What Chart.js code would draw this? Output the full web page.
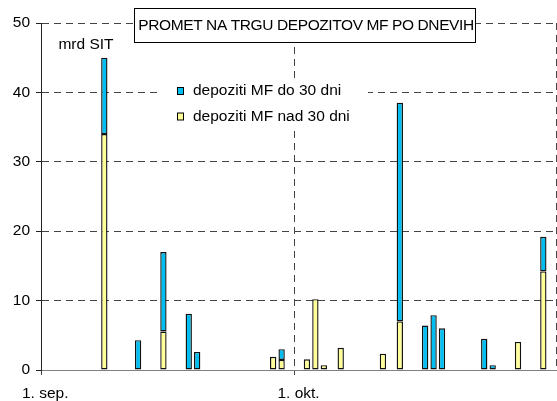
<!DOCTYPE html>
<html>
<head>
<meta charset="utf-8">
<script src="https://cdn.jsdelivr.net/npm/chart.js@4"></script>
<style>
  html, body { margin: 0; padding: 0; background: #fff; }
  #wrap { width: 557px; height: 401px; }
</style>
</head>
<body>
<div id="wrap"><canvas id="chart"></canvas></div>
<script>
const FONT = '"Liberation Sans", Arial, sans-serif';
const FONT_SIZE = 15.5;

// categories: every day from 1. sep. to 31. okt.
const months = [['sep.', 30], ['okt.', 31]];
const days = [];
months.forEach(([name, count]) => {
  for (let d = 1; d <= count; d++) days.push(d + '. ' + name);
});
const tickLabels = ['1. sep.', '1. okt.'];

const titleText = 'PROMET NA TRGU DEPOZITOV MF PO DNEVIH';
const unitText = 'mrd SIT';
const do30Label = 'depoziti MF do 30 dni';
const nad30Label = 'depoziti MF nad 30 dni';

// depoziti MF do 30 dni (mrd SIT)
const do30Days = ['8. sep.', '12. sep.', '15. sep.', '18. sep.', '19. sep.', '29. sep.',
  '13. okt.', '16. okt.', '17. okt.', '18. okt.', '23. okt.', '24. okt.', '30. okt.'];
const do30Values = [11, 4.3, 11.45, 8.1, 2.6, 1.55, 31.5, 6.4, 7.9, 6.0, 4.5, 0.7, 5.0];

// depoziti MF nad 30 dni (mrd SIT)
const nad30Days = ['8. sep.', '15. sep.', '28. sep.', '29. sep.', '2. okt.', '3. okt.',
  '4. okt.', '6. okt.', '11. okt.', '13. okt.', '27. okt.', '30. okt.'];
const nad30Values = [34, 5.55, 1.9, 1.45, 1.55, 10.2, 0.7, 3.2, 2.35, 7.0, 4.05, 14.2];

const yTicks = [0, 10, 20, 30, 40, 50];

const BLUE = '#00BEEF';
const YELLOW = '#FFFF99';
const GRID = '#444';

const toSeries = (dayList, values) =>
  days.map((d) => {
    const i = dayList.indexOf(d);
    return i < 0 ? null : values[i];
  });

// title box, unit label and legend drawn over the plot like in the original
const overlay = {
  id: 'overlay',
  afterDraw(chart) {
    const ctx = chart.ctx;
    ctx.save();
    ctx.font = FONT_SIZE + 'px ' + FONT;
    ctx.textBaseline = 'middle';

    ctx.fillStyle = '#fff';
    ctx.fillRect(134.5, 8.5, 341, 34);
    ctx.strokeStyle = '#000';
    ctx.lineWidth = 1;
    ctx.strokeRect(134.5, 8.5, 341, 34);
    ctx.fillStyle = '#000';
    ctx.textAlign = 'center';
    ctx.letterSpacing = '-0.4px';
    ctx.fillText(titleText, 306, 26);
    ctx.letterSpacing = '0px';

    ctx.fillText(unitText, 86, 45);

    ctx.fillStyle = '#fff';
    ctx.fillRect(158, 78, 210, 52);
    ctx.textAlign = 'left';
    [[BLUE, do30Label, 91], [YELLOW, nad30Label, 116.5]].forEach(([color, text, y]) => {
      ctx.fillStyle = color;
      ctx.fillRect(177.5, y - 3.5, 6, 7);
      ctx.strokeStyle = '#000';
      ctx.strokeRect(177.5, y - 3.5, 6, 7);
      ctx.fillStyle = '#000';
      ctx.fillText(text, 193, y);
    });
    ctx.restore();
  },
};

const ctx = document.getElementById('chart').getContext('2d');
const chart = new Chart(ctx, {
  type: 'bar',
  data: {
    labels: days,
    datasets: [
      {
        label: nad30Label,
        data: toSeries(nad30Days, nad30Values),
        backgroundColor: YELLOW,
        borderColor: '#111',
        borderWidth: 1.4,
        borderSkipped: false,
      },
      {
        label: do30Label,
        data: toSeries(do30Days, do30Values),
        backgroundColor: BLUE,
        borderColor: '#111',
        borderWidth: 1.4,
        borderSkipped: false,
      },
    ],
  },
  options: {
    responsive: true,
    maintainAspectRatio: false,
    animation: false,
    barPercentage: 0.75,
    categoryPercentage: 1,
    layout: { padding: { top: 23, right: 1, left: 0, bottom: 0 } },
    plugins: {
      legend: { display: false },
      tooltip: { enabled: false },
    },
    scales: {
      x: {
        stacked: true,
        offset: true,
        grid: {
          offset: true,
          color: (c) => (c.index === 30 || c.index === undefined ? GRID : 'transparent'),
          tickColor: (c) => (c.index === 0 || c.index === 30 ? GRID : 'transparent'),
          tickLength: 5,
        },
        border: { color: '#808080', dash: [7, 5] },
        ticks: {
          autoSkip: false,
          maxRotation: 0,
          padding: 9,
          color: '#000',
          font: { size: FONT_SIZE, family: FONT },
          callback: (v, i) => (tickLabels.includes(days[i]) ? days[i] : ''),
        },
        afterFit: (s) => {
          s.height = 31;
          s.paddingLeft = 0;
          s.paddingRight = 0;
        },
      },
      y: {
        stacked: true,
        min: 0,
        max: 50,
        afterBuildTicks: (s) => { s.ticks = yTicks.map((v) => ({ value: v })); },
        grid: {
          color: (c) => (c.tick && c.tick.value === 0 ? 'transparent' : GRID),
          tickColor: '#222',
          tickLength: 5,
        },
        border: { color: '#222', dash: [7, 5] },
        ticks: {
          padding: 6,
          color: '#000',
          font: { size: FONT_SIZE, family: FONT },
        },
        afterFit: (s) => { s.width = 41; },
      },
    },
  },
  plugins: [overlay],
});
</script>
</body>
</html>
